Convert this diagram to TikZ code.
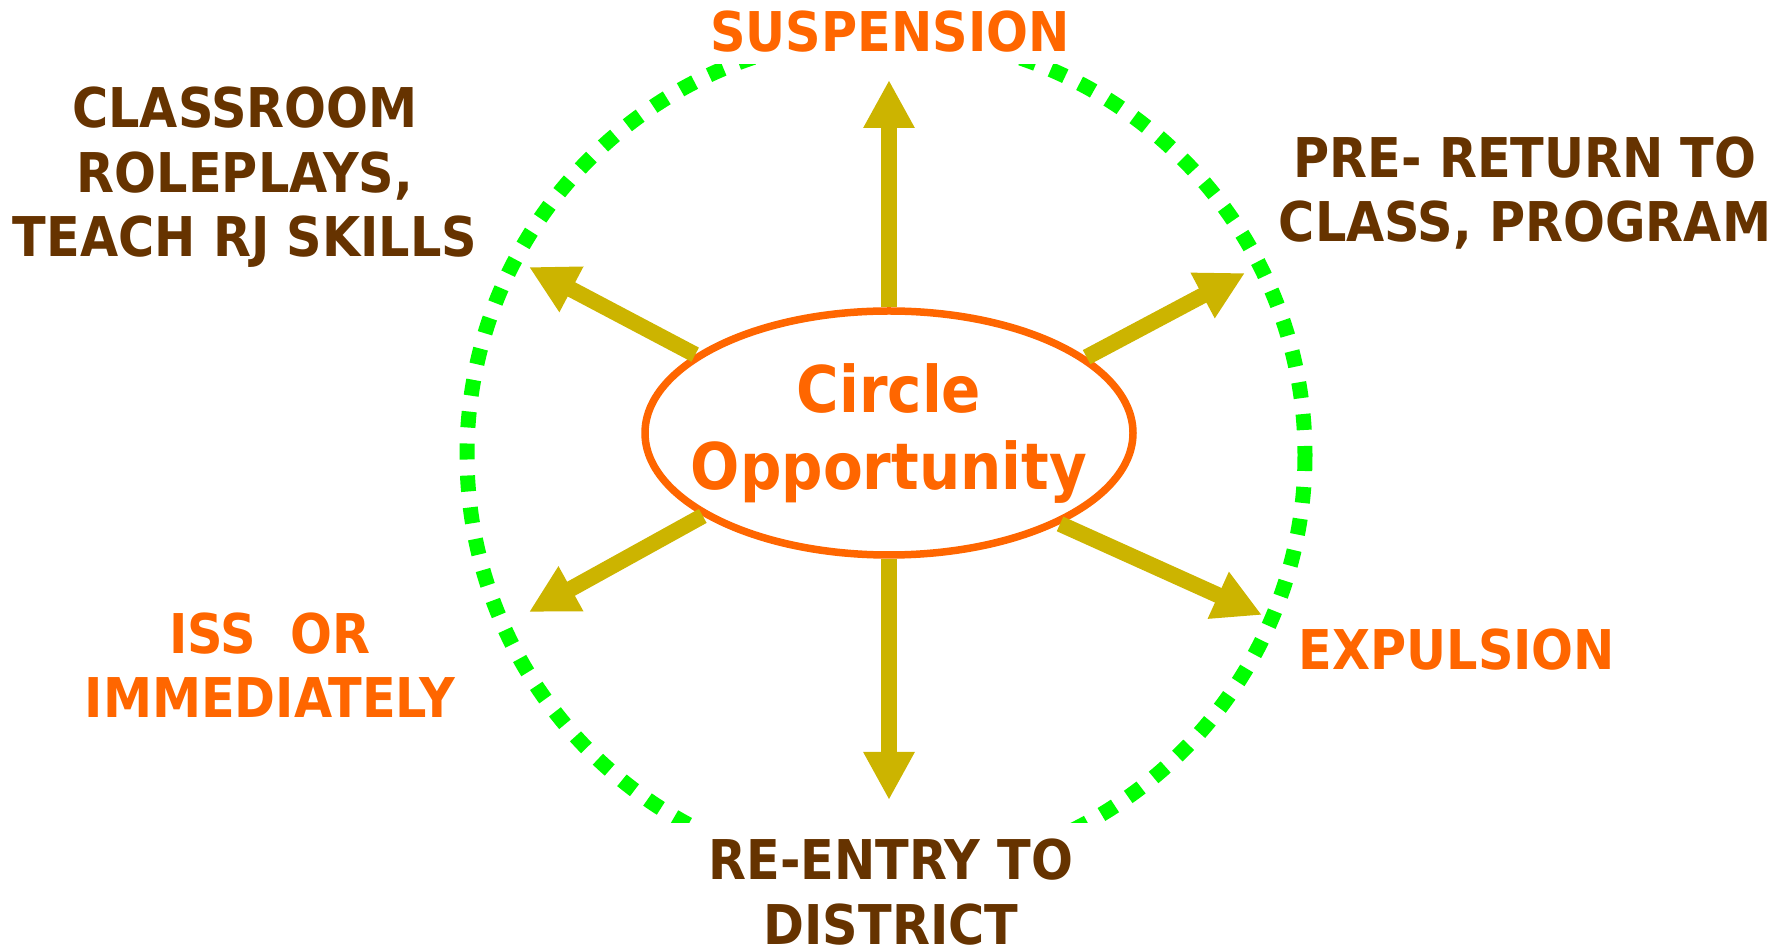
\documentclass[tikz,border=0pt]{standalone}
\usepackage{fontspec}
\setmainfont{DejaVu Sans}[FakeStretch=0.9]
\usetikzlibrary{arrows.meta}
\usetikzlibrary{shapes.geometric}

\definecolor{rjorange}{RGB}{255,102,0}
\definecolor{rjbrown}{RGB}{102,51,0}
\definecolor{rjolive}{RGB}{204,180,0}
\definecolor{rjgreen}{RGB}{0,255,0}

\begin{document}
\begin{tikzpicture}[x=0.5pt, y=-0.5pt,
    hub/.style = {draw=rjorange, line width=3.75pt, ellipse, fill=white, minimum width=244pt, minimum height=122pt,
        inner xsep=-15pt, inner ysep=0pt, text=rjorange, align=center, font=\fontsize{32.2}{38.5}\selectfont\bfseries},
    lbl/.style = {font=\fontsize{27.4}{32.25}\selectfont\bfseries, align=center, inner sep=0pt, anchor=base},
    spoke/.style = {draw=rjolive, line width=8pt, -{Triangle[width=24pt, length=24pt]}}]

    \useasboundingbox (0,0) rectangle (1785,951);

    % dotted ring, cut off under the top and bottom labels
    \begin{scope}
        \clip (0,65) rectangle (1785,823);
        \draw[rjgreen, line width=7.5pt, dash pattern=on 8pt off 8pt] (886,455) circle [radius=419];
    \end{scope}

    \node [hub] (circ) at (889,433) {Circle\\Opportunity};

    % labels, placed at the baseline of their last line
    \node [lbl, text=rjorange] (susp) at (890,52) {SUSPENSION};
    \node [lbl, text=rjbrown] (class) at (245,257) {CLASSROOM\\ROLEPLAYS,\\TEACH RJ SKILLS};
    \node [lbl, text=rjbrown] (prer) at (1525,242) {PRE- RETURN TO\\CLASS, PROGRAM};
    \node [lbl, text=rjorange] (iss) at (270,718) {ISS\ \ OR\\IMMEDIATELY};
    \node [lbl, text=rjorange] (expel) at (1457,670) {EXPULSION};
    \node [lbl, text=rjbrown] (reent) at (891,944) {RE-ENTRY TO\\DISTRICT};

    % arrow tips
    \coordinate (tN) at (889,80);
    \coordinate (tS) at (889,800);
    \coordinate (tNW) at (529,267);
    \coordinate (tNE) at (1245,273);
    \coordinate (tSW) at (529,612);
    \coordinate (tSE) at (1262,615);

    \draw [spoke] (circ.north) -- (tN);
    \draw [spoke] (circ.south) -- (tS);
    \draw [spoke] (circ.158) -- (tNW);
    \draw [spoke] (circ.21) -- (tNE);
    \draw [spoke] (circ.204) -- (tSW);
    \draw [spoke] (circ.332) -- (tSE);

\end{tikzpicture}
\end{document}
